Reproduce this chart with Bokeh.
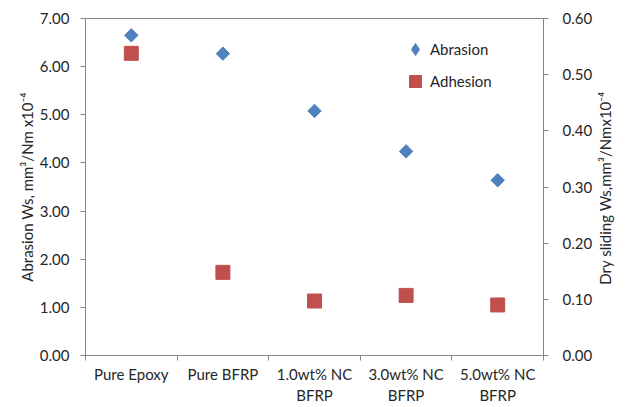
import numpy as np
from bokeh.plotting import figure
from bokeh.models import (Range1d, LinearAxis, FixedTicker, NumeralTickFormatter,
                          Legend, LegendItem)
from bokeh.embed import file_html
from bokeh.resources import INLINE

# ---- data ----
categories = ["Pure Epoxy", "Pure BFRP", "1.0wt% NC\nBFRP", "3.0wt% NC\nBFRP", "5.0wt% NC\nBFRP"]
abrasion = [6.65, 6.27, 5.08, 4.24, 3.64]          # left axis
adhesion = [0.538, 0.148, 0.097, 0.107, 0.090]     # right axis
left_ticks = [0, 1, 2, 3, 4, 5, 6, 7]
right_ticks = [0.0, 0.1, 0.2, 0.3, 0.4, 0.5, 0.6]
left_title = "Abrasion Ws, mm³/Nm x10⁻⁴"
right_title = "Dry sliding Ws,mm³/Nmx10⁻⁴"

FONT = "Lato"
FS = "15px"
TXT = "#262626"
AX = "#868686"
BLUE = "#4F81BD"
RED = "#C0504D"

n = len(categories)
xs = list(range(n))

p = figure(width=630, height=407, output_backend="svg", toolbar_location=None,
           x_range=Range1d(-0.5, n - 0.5), y_range=Range1d(left_ticks[0], left_ticks[-1]),
           min_border_left=85, min_border_right=87, min_border_top=18, min_border_bottom=51)
p.xgrid.visible = False
p.ygrid.visible = False
p.outline_line_color = AX
p.background_fill_color = "white"
p.border_fill_color = "white"

# x axis: labels at category centres, tick marks at boundaries
xa = p.xaxis[0]
xa.ticker = FixedTicker(ticks=xs, minor_ticks=[i - 0.5 for i in range(n + 1)])
xa.major_label_overrides = {i: c for i, c in enumerate(categories)}
xa.major_tick_out = 0
xa.major_tick_in = 0
xa.minor_tick_out = 5
xa.minor_tick_in = 0
xa.minor_tick_line_color = AX
xa.axis_line_color = AX
xa.major_label_standoff = 4
xa.major_label_text_font = FONT
xa.major_label_text_font_size = FS
xa.major_label_text_color = TXT

# left axis
ya = p.yaxis[0]
ya.ticker = FixedTicker(ticks=left_ticks, minor_ticks=[])
ya.formatter = NumeralTickFormatter(format="0.00")
ya.major_tick_out = 5
ya.major_tick_in = 0
ya.major_tick_line_color = AX
ya.axis_line_color = AX
ya.major_label_standoff = 11
ya.major_label_text_font = FONT
ya.major_label_text_font_size = FS
ya.major_label_text_color = TXT
ya.axis_label = left_title
ya.axis_label_standoff = 1
ya.axis_label_text_font = FONT
ya.axis_label_text_font_size = FS
ya.axis_label_text_font_style = "normal"
ya.axis_label_text_color = TXT

# right axis
p.extra_y_ranges = {"r": Range1d(right_ticks[0], right_ticks[-1]),
                    "title": Range1d(0, 1)}
ra = LinearAxis(y_range_name="r", ticker=FixedTicker(ticks=right_ticks, minor_ticks=[]),
                formatter=NumeralTickFormatter(format="0.00"))
ra.major_tick_out = 5
ra.major_tick_in = 0
ra.major_tick_line_color = AX
ra.axis_line_color = AX
ra.major_label_standoff = 14
ra.major_label_text_font = FONT
ra.major_label_text_font_size = FS
ra.major_label_text_color = TXT
p.add_layout(ra, "right")

# right axis title (bottom-to-top), drawn as the single label of a bare outer axis;
# the label starts at its tick, so the tick sits below mid-height by half the text length
title_start = 0.21
ta = LinearAxis(y_range_name="title", ticker=FixedTicker(ticks=[title_start], minor_ticks=[]))
ta.major_label_overrides = {title_start: right_title}
ta.major_label_orientation = np.pi / 2
ta.axis_line_color = None
ta.major_tick_line_color = None
ta.minor_tick_line_color = None
ta.major_tick_out = 0
ta.major_tick_in = 0
ta.major_label_standoff = 10
ta.major_label_text_font = FONT
ta.major_label_text_font_size = FS
ta.major_label_text_color = TXT
p.add_layout(ta, "right")

r1 = p.scatter(xs, abrasion, marker="square", angle=np.pi / 4, size=9.5,
               fill_color=BLUE, line_color=BLUE)
r2 = p.scatter(xs, adhesion, y_range_name="r", marker="square", size=14,
               fill_color=RED, line_color=RED)
# hidden twin of the Abrasion series, used only for its diamond legend glyph
r1_leg = p.scatter(xs, abrasion, marker="diamond", fill_color=BLUE, line_color=BLUE,
                   visible=False)

legend = Legend(items=[LegendItem(label="Abrasion", renderers=[r1_leg]),
                       LegendItem(label="Adhesion", renderers=[r2])],
                location=(315, 258), glyph_width=30, glyph_height=32,
                label_standoff=0, spacing=0, padding=0, margin=0,
                border_line_color=None, background_fill_alpha=0,
                inactive_fill_alpha=0,
                label_text_font=FONT, label_text_font_size=FS, label_text_color=TXT)
p.add_layout(legend)

open("out.html", "w").write(file_html(p, INLINE))
